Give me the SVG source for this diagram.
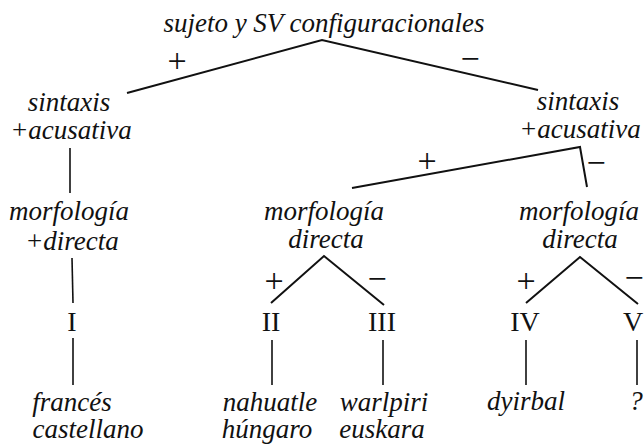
<svg xmlns="http://www.w3.org/2000/svg" width="644" height="446" viewBox="0 0 644 446">
  <style>
    .lbl { font-family: "Liberation Serif", "DejaVu Serif", serif; font-style: italic; font-size: 27px; fill: #111; text-anchor: middle; }
    .num { font-family: "Liberation Serif", "DejaVu Serif", serif; font-size: 28px; fill: #111; text-anchor: middle; }
    .sign { font-family: "Liberation Serif", "DejaVu Serif", serif; font-size: 34px; fill: #111; text-anchor: middle; }
    .edge { fill: none; stroke: #111; stroke-width: 2; stroke-linejoin: miter; }
    .stem { fill: none; stroke: #111; stroke-width: 1.6; }
  </style>
  <rect width="644" height="446" fill="#fff"/>

  <!-- connectors -->
  <g id="connectors">
    <path class="edge" d="M127,93 L322,40 L538,90"/>
    <path class="stem" d="M70,148 L70,193"/>
    <path class="stem" d="M72,258 L73,303"/>
    <path class="stem" d="M73,338 L73,385"/>
    <path class="edge" d="M352,188 L580,147 L587,187"/>
    <path class="edge" d="M271,303 L324,256 L384,305"/>
    <path class="stem" d="M272,340 L272,385"/>
    <path class="stem" d="M383,340 L383,385"/>
    <path class="edge" d="M526,303 L580,257 L638,304"/>
    <path class="stem" d="M526,340 L526,385"/>
    <path class="stem" d="M637,340 L637,385"/>
  </g>

  <!-- branch signs -->
  <g id="signs">
    <text class="sign" x="177" y="72">+</text>
    <text class="sign" x="470" y="70">−</text>
    <text class="sign" x="427" y="172">+</text>
    <text class="sign" x="596" y="174">−</text>
    <text class="sign" x="274" y="292">+</text>
    <text class="sign" x="377" y="290">−</text>
    <text class="sign" x="526" y="292">+</text>
    <text class="sign" x="634" y="289">−</text>
  </g>

  <g id="root"><text class="lbl" x="324" y="32">sujeto y SV configuracionales</text></g>

  <g id="sintaxis-left">
    <text class="lbl" x="69" y="111">sintaxis</text>
    <text class="lbl" x="71" y="139">+acusativa</text>
  </g>
  <g id="sintaxis-right">
    <text class="lbl" x="578" y="110">sintaxis</text>
    <text class="lbl" x="580" y="138">+acusativa</text>
  </g>

  <g id="morfologia-left">
    <text class="lbl" x="69" y="220">morfología</text>
    <text class="lbl" x="72" y="250">+directa</text>
  </g>
  <g id="morfologia-mid">
    <text class="lbl" x="324" y="220">morfología</text>
    <text class="lbl" x="326" y="248">directa</text>
  </g>
  <g id="morfologia-right">
    <text class="lbl" x="579" y="220">morfología</text>
    <text class="lbl" x="580" y="248">directa</text>
  </g>

  <g id="type-I"><text class="num" x="72" y="331">I</text></g>
  <g id="type-II"><text class="num" x="271" y="331">II</text></g>
  <g id="type-III"><text class="num" x="382" y="331">III</text></g>
  <g id="type-IV"><text class="num" x="525" y="331">IV</text></g>
  <g id="type-V"><text class="num" x="633" y="331">V</text></g>

  <g id="lang-I">
    <text class="lbl" x="72" y="411">francés</text>
    <text class="lbl" x="88" y="438">castellano</text>
  </g>
  <g id="lang-II">
    <text class="lbl" x="270" y="411">nahuatle</text>
    <text class="lbl" x="267" y="438">húngaro</text>
  </g>
  <g id="lang-III">
    <text class="lbl" x="384" y="411">warlpiri</text>
    <text class="lbl" x="382" y="438">euskara</text>
  </g>
  <g id="lang-IV"><text class="lbl" x="526" y="410">dyirbal</text></g>
  <g id="lang-V"><text class="lbl" x="636" y="410">?</text></g>
</svg>
